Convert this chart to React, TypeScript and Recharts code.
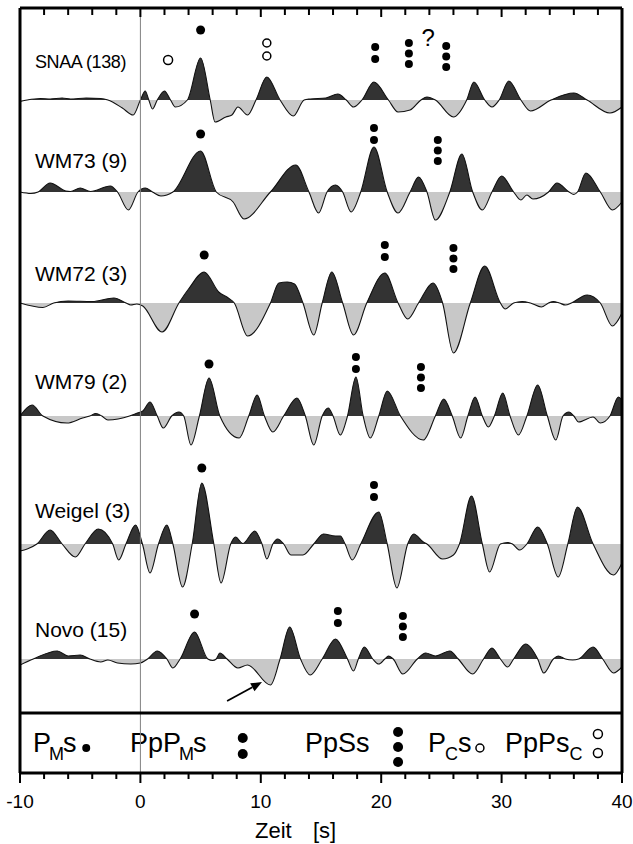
import React from "react";
import {
  ComposedChart,
  Area,
  Line,
  Scatter,
  XAxis,
  YAxis,
  ReferenceLine,
} from "recharts";

const FONT = '"Liberation Sans", Arial, Helvetica, sans-serif';
const DARK = "#333333";
const LIGHT = "#c8c8c8";

type Knot = [number, number]; // [time s, amplitude]

// Receiver function traces, knots at extrema and zero crossings
const SNAA: Knot[] = [
  [-10, -1.5], [-9.4, 0], [-8.3, 1.5], [-7.5, 1], [-6.5, 2], [-5.8, 1], [-4.5, 2], [-3.3, 1.5],
  [-2.7, 0], [-1.5, -8], [-0.6, -15], [0, 0], [0.4, 9], [0.7, 0], [1.0, -9], [1.4, 0], [2.0, 9],
  [2.5, 0], [2.9, -7], [3.9, 0], [5.0, 42], [5.8, 0], [6.2, -22], [7.1, -17], [7.6, -15], [8.1, -7],
  [8.9, -15], [9.6, 0], [10.5, 23], [11.6, 0], [12.7, -16], [13.6, 0], [14.1, 1], [15.4, 2],
  [16.4, 6], [17.1, 0], [17.7, -7], [18.4, 0], [19.4, 18], [20.6, 0], [21.4, -12], [22.4, -10],
  [23.3, 0], [23.8, 3], [24.5, 0], [26.0, -17], [27.1, 0], [27.7, 18], [28.6, 0], [29.2, -7],
  [29.8, 0], [30.6, 19], [31.6, 0], [32.4, -11], [34.1, 0], [36.0, 7], [37.1, 0], [39.0, -13],
  [40, -7],
];

const WM73: Knot[] = [
  [-10, 0], [-9.1, -1.5], [-8.5, 0], [-7.5, 9], [-6.2, 1], [-5.8, 0.5], [-5.0, 4], [-4.15, 0.5],
  [-2.5, 6], [-1.9, 0], [-1.0, -18], [-0.2, 0], [0.4, 4], [1.0, 0], [1.7, -4], [2.7, 0], [5.0, 41],
  [6.3, 0], [7.7, -10], [8.6, -27], [10.8, 0], [12.9, 27], [14.0, 0], [14.8, -21], [15.5, 0],
  [16.2, 7], [16.8, 0], [17.5, -20], [18.3, 0], [19.4, 45], [20.5, 0], [21.4, -21], [22.4, 0],
  [23.1, 15], [23.8, 0], [24.5, -28], [25.7, 0], [26.7, 38], [27.6, 0], [28.4, -18], [29.2, 0],
  [30.0, 16], [31.0, 0], [31.6, -8], [32.1, -3], [32.6, -7], [33.9, 0], [34.6, 9], [35.6, 0],
  [36.0, -2.5], [36.3, 0], [37.0, 19], [38.2, 0], [39.2, -18], [40, -10],
];

const WM72: Knot[] = [
  [-10, 0], [-8.1, -4.5], [-7.2, 0], [-6.0, 2], [-4.0, 1.5], [-2.2, 5], [-1.2, 0], [-0.8, -2],
  [-0.3, -1], [0.2, -3], [1.8, -29], [3.2, 0], [4.0, 14], [5.3, 31], [6.5, 11], [7.3, 5], [7.8, 0],
  [8.9, -33], [10.8, 0], [11.5, 20], [12.2, 21], [12.8, 19], [13.5, 0], [14.4, -32], [15.1, 0],
  [15.9, 31], [16.8, 0], [17.7, -32], [18.8, 0], [20.3, 30], [21.4, 0], [22.2, -16], [23.1, 0],
  [24.3, 20], [25.1, 0], [26.0, -50], [27.4, 0], [28.6, 37], [29.9, 0], [30.3, -6], [31.0, 0],
  [31.7, 1.5], [32.4, 0], [33.3, -4], [33.9, 0], [34.3, 1.5], [34.8, 0], [35.3, -2], [35.8, 0],
  [37.1, 8], [38.2, 0], [39.2, -23], [40, -10],
];

const WM79: Knot[] = [
  [-10, 0], [-9.0, 11], [-8.1, 0], [-6.1, -7], [-4.8, -2], [-4.2, 0], [-3.7, 2.5], [-3.2, 0],
  [-2.7, -4], [-0.9, 0], [-0.25, 3], [0.2, 5], [0.8, 14], [1.4, 0], [1.9, -12], [2.6, 0], [3.2, 4],
  [3.6, 0], [4.2, -29], [4.9, 0], [5.7, 38], [6.6, 0], [8.2, -22], [9.0, 0], [9.7, 21], [10.3, 0],
  [11.0, -16], [11.9, 0], [13.0, 18], [13.7, 0], [14.4, -29], [15.1, 0], [15.6, 8], [16.0, 0],
  [16.6, -19], [17.2, 0], [17.9, 39], [18.5, 0], [19.1, -22], [19.8, 0], [20.5, 25], [21.6, 0],
  [23.5, -24], [24.5, 0], [25.2, 17], [25.9, 0], [26.6, -22], [27.2, 0], [27.8, 19], [28.4, 0],
  [28.9, -11], [29.4, 0], [30.1, 23], [30.7, 0], [31.4, -19], [32.1, 0], [33.0, 31], [33.8, 0],
  [34.5, -24], [35.1, 0], [35.6, 4], [36.0, 0], [36.4, -6], [37.6, -1], [38.2, -7], [39.0, 0],
  [39.7, 19], [40, 16],
];

const WEIGEL: Knot[] = [
  [-10, -7], [-9.4, -5], [-8.6, 0], [-7.5, 14], [-6.5, 0], [-5.4, -13], [-4.6, 0], [-3.5, 15],
  [-2.3, 0], [-1.8, -16], [-1.2, 0], [-0.4, 19], [0.17, 0], [0.8, -29], [1.5, 0], [2.2, 19],
  [2.7, 0], [3.5, -43], [4.3, 0], [5.1, 61], [6.1, 0], [6.7, -39], [7.5, 0], [7.9, 7], [8.5, 0.5],
  [9.5, 13], [10.1, 0], [10.5, -15], [11.0, 0], [11.4, 5], [11.9, 0], [12.5, -11], [13.5, -11],
  [14.4, 0], [15.2, 10], [16.2, 8], [16.6, 8], [17.0, 0], [17.6, -16], [18.3, 0], [19.8, 32],
  [20.5, 0], [21.3, -44], [22.2, 0], [22.7, 10], [23.5, 2], [23.8, 0], [25.1, -15], [26.0, -11],
  [26.5, 0], [27.5, 48], [28.4, 0], [29.0, -28], [29.9, 0], [30.5, 1.5], [30.9, 0], [31.5, -6],
  [32.1, 0], [33.0, 17], [33.8, 0], [34.7, -33], [35.5, 0], [36.3, 37], [37.6, 0], [39.3, -31],
  [40, -19],
];

const NOVO: Knot[] = [
  [-10, -6], [-8.9, 0], [-6.9, 8], [-6.0, 3], [-5.0, 4], [-4.2, 0], [-3.3, -3], [-2.7, -1],
  [-1.9, -4], [-0.8, -5], [0, -4], [0.6, 0], [1.4, 8], [2.2, 0], [2.7, -9], [3.3, 0], [4.5, 27],
  [5.6, 0], [6.0, -1.5], [6.3, 0], [6.6, 6], [7.2, 0], [8.1, -9], [8.9, -6], [10.8, -26],
  [11.6, 0], [12.4, 32], [13.3, 0], [14.1, -16], [15.1, 0], [16.2, 20], [17.2, 0], [17.7, -12],
  [18.1, 0], [18.6, 12], [19.3, 0], [19.8, -5], [20.3, 0], [20.6, 3], [21.0, 0], [21.8, -15],
  [23.0, 0], [23.7, 6], [24.5, 3], [25.7, 8], [26.4, 0], [27.6, -15], [28.5, 0], [29.2, 11],
  [29.9, 0], [30.5, -8], [31.0, 0], [32.0, 15], [33.0, 0], [33.5, -14], [34.3, 0], [34.7, 3],
  [35.3, 0], [35.9, -1], [36.4, 0], [37.6, 12], [38.4, 0], [39.3, -14], [40, -8],
];

const STATIONS = ["SNAA (138)", "WM73 (9)", "WM72 (3)", "WM79 (2)", "Weigel (3)", "Novo (15)"];
const TRACES = [SNAA, WM73, WM72, WM79, WEIGEL, NOVO];

// trace placement, y units are pixels above the time axis
const BASELINES = [673, 581, 470, 357, 229, 114];
const LABEL_Y = [68, 168, 281, 389, 518, 637];
const LABEL_SIZE = [18, 21, 21, 21, 21, 21];

const TICKS = [-10, -8, -6, -4, -2, 0, 2, 4, 6, 8, 10, 12, 14, 16, 18, 20, 22, 24, 26, 28, 30, 32, 34, 36, 38, 40];
const TOP = 765;

// phase picks: station, time, marker type, number of markers, height above trace
type Pick = { station: number; t: number; kind: "dot" | "ring"; n: number; rise: number };
const PICKS: Pick[] = [
  { station: 0, t: 2.3, kind: "ring", n: 1, rise: 40 },
  { station: 0, t: 5.0, kind: "dot", n: 1, rise: 70 },
  { station: 0, t: 10.5, kind: "ring", n: 2, rise: 44 },
  { station: 0, t: 19.5, kind: "dot", n: 2, rise: 41 },
  { station: 0, t: 22.3, kind: "dot", n: 3, rise: 36 },
  { station: 0, t: 25.4, kind: "dot", n: 3, rise: 33 },
  { station: 1, t: 5.0, kind: "dot", n: 1, rise: 58 },
  { station: 1, t: 19.4, kind: "dot", n: 2, rise: 52 },
  { station: 1, t: 24.7, kind: "dot", n: 3, rise: 31 },
  { station: 2, t: 5.3, kind: "dot", n: 1, rise: 48 },
  { station: 2, t: 20.3, kind: "dot", n: 2, rise: 46 },
  { station: 2, t: 26.0, kind: "dot", n: 3, rise: 34 },
  { station: 3, t: 5.7, kind: "dot", n: 1, rise: 52 },
  { station: 3, t: 17.9, kind: "dot", n: 2, rise: 47 },
  { station: 3, t: 23.3, kind: "dot", n: 3, rise: 28 },
  { station: 4, t: 5.1, kind: "dot", n: 1, rise: 76 },
  { station: 4, t: 19.4, kind: "dot", n: 2, rise: 47 },
  { station: 5, t: 4.5, kind: "dot", n: 1, rise: 45 },
  { station: 5, t: 16.4, kind: "dot", n: 2, rise: 36 },
  { station: 5, t: 21.8, kind: "dot", n: 3, rise: 22 },
];
const QUERY = { station: 0, t: 23.9, rise: 62 };

// key markers in the bottom box
const LEGEND_DOTS = [
  { t: -4.5, y: 25, r: 4 },
  { t: 8.5, y: 35, r: 5 },
  { t: 8.5, y: 19, r: 5 },
  { t: 21.4, y: 41, r: 5 },
  { t: 21.4, y: 26, r: 5 },
  { t: 21.4, y: 11, r: 5 },
];
const LEGEND_RINGS = [
  { t: 28.2, y: 25, r: 4 },
  { t: 38.0, y: 39, r: 4.5 },
  { t: 38.0, y: 20, r: 4.5 },
];

const ARROW = [{ x: 7.2, y: 72 }, { x: 10.1, y: 91 }];

const rowsFor = (knots: Knot[], base: number) =>
  knots.map(([t, a]) => ({ t, y: base + a, band: [base, base + a] }));

const splitAt = (knots: Knot[]) => {
  const hi = Math.max(0, ...knots.map((k) => k[1]));
  const lo = Math.min(0, ...knots.map((k) => k[1]));
  return hi / (hi - lo);
};

const pickPoints = (kind: "dot" | "ring") =>
  PICKS.filter((p) => p.kind === kind).flatMap((p) => {
    const gap = p.n === 3 ? 10.5 : kind === "ring" ? 13 : 12;
    return Array.from({ length: p.n }, (_, k) => ({
      t: p.t,
      y: BASELINES[p.station] + p.rise + k * gap,
      r: p.n === 1 ? 4.5 : 4,
    }));
  });

const topTicks = TICKS.map((t) => ({ t, y: TOP, len: t % 10 === 0 ? 9 : 7 }));

const DotShape = (p: any) => <circle cx={p.cx} cy={p.cy} r={p.payload.r} fill="#000" />;
const RingShape = (p: any) => (
  <circle cx={p.cx} cy={p.cy} r={p.payload.r} fill="#fff" stroke="#000" strokeWidth={1.5} />
);
const QueryShape = (p: any) => (
  <text x={p.cx} y={p.cy + 8} textAnchor="middle" fontSize={24} fontFamily={FONT}>
    ?
  </text>
);
// short tick hanging down from the top frame
const TopTickShape = (p: any) => (
  <line x1={p.cx} x2={p.cx} y1={p.cy} y2={p.cy + p.payload.len} stroke="#000" strokeWidth={2} />
);

const BottomTick = (p: any) => {
  const v = p.payload.value;
  const major = v % 10 === 0;
  return (
    <g>
      <line x1={p.x} x2={p.x} y1={p.y} y2={p.y + (major ? 10 : 6)} stroke="#000" strokeWidth={2} />
      {major && (
        <text x={p.x} y={p.y + 35} textAnchor="middle" fontSize={19} fontFamily={FONT} fill="#000">
          {v}
        </text>
      )}
    </g>
  );
};

const Arrow = (p: any) => {
  const { x1, y1, x2, y2 } = p;
  const ang = Math.atan2(y2 - y1, x2 - x1);
  const len = 11;
  const w = 4.5;
  const bx = x2 - len * Math.cos(ang);
  const by = y2 - len * Math.sin(ang);
  const px = -Math.sin(ang) * w;
  const py = Math.cos(ang) * w;
  return (
    <g>
      <line x1={x1} y1={y1} x2={bx} y2={by} stroke="#000" strokeWidth={1.8} />
      <polygon points={`${x2},${y2} ${bx + px},${by + py} ${bx - px},${by - py}`} fill="#000" />
    </g>
  );
};

export default function App() {
  const dots = pickPoints("dot");
  const rings = pickPoints("ring");
  const query = [{ t: QUERY.t, y: BASELINES[QUERY.station] + QUERY.rise }];

  return (
    <div style={{ position: "absolute", left: 0, top: 0, background: "#fff" }}>
      <ComposedChart width={633} height={844} margin={{ top: 8, right: 11, bottom: 11, left: 20 }}>
        <defs>
          {TRACES.map((knots, i) => {
            const f = splitAt(knots);
            return (
              <linearGradient key={i} id={`rf${i}`} x1="0" y1="0" x2="0" y2="1">
                <stop offset={0} stopColor={DARK} />
                <stop offset={f} stopColor={DARK} />
                <stop offset={f} stopColor={LIGHT} />
                <stop offset={1} stopColor={LIGHT} />
              </linearGradient>
            );
          })}
        </defs>
        <XAxis
          xAxisId="b"
          type="number"
          dataKey="t"
          domain={[-10, 40]}
          allowDataOverflow
          ticks={TICKS}
          interval={0}
          height={60}
          axisLine={{ stroke: "#000", strokeWidth: 3 }}
          tickLine={false}
          tickSize={0}
          tickMargin={0}
          tick={<BottomTick />}
        />
        <YAxis type="number" dataKey="y" domain={[0, TOP]} allowDataOverflow hide />

        {TRACES.map((knots, i) => (
          <Area
            key={`a${i}`}
            xAxisId="b"
            data={rowsFor(knots, BASELINES[i])}
            dataKey="band"
            type="monotone"
            stroke="none"
            fill={`url(#rf${i})`}
            fillOpacity={1}
            isAnimationActive={false}
          />
        ))}
        {TRACES.map((knots, i) => (
          <Line
            key={`l${i}`}
            xAxisId="b"
            data={rowsFor(knots, BASELINES[i])}
            dataKey="y"
            type="monotone"
            stroke="#111"
            strokeWidth={1.1}
            dot={false}
            activeDot={false}
            isAnimationActive={false}
          />
        ))}

        <ReferenceLine xAxisId="b" x={0} stroke="#808080" strokeWidth={1} />
        <ReferenceLine xAxisId="b" x={-10} stroke="#000" strokeWidth={3} />
        <ReferenceLine xAxisId="b" x={40} stroke="#000" strokeWidth={3} />
        <ReferenceLine xAxisId="b" y={TOP} stroke="#000" strokeWidth={3} />
        <ReferenceLine xAxisId="b" y={60} stroke="#000" strokeWidth={3} />
        <ReferenceLine xAxisId="b" segment={ARROW} shape={<Arrow />} />

        <Scatter xAxisId="b" data={topTicks} dataKey="y" shape={TopTickShape} isAnimationActive={false} />
        <Scatter xAxisId="b" data={dots} dataKey="y" shape={DotShape} isAnimationActive={false} />
        <Scatter xAxisId="b" data={rings} dataKey="y" shape={RingShape} isAnimationActive={false} />
        <Scatter xAxisId="b" data={query} dataKey="y" shape={QueryShape} isAnimationActive={false} />
        <Scatter xAxisId="b" data={LEGEND_DOTS} dataKey="y" shape={DotShape} isAnimationActive={false} />
        <Scatter xAxisId="b" data={LEGEND_RINGS} dataKey="y" shape={RingShape} isAnimationActive={false} />

        <g fontFamily={FONT} fill="#000">
          {STATIONS.map((name, i) => (
            <text
              key={name}
              x={35}
              y={LABEL_Y[i]}
              fontSize={LABEL_SIZE[i]}
              letterSpacing={i === 0 ? -0.4 : 0}
            >
              {name}
            </text>
          ))}
          <text x={33} y={752} fontSize={27}>
            P<tspan fontSize={18} dx={-2} dy={8}>M</tspan>
            <tspan dx={-1} dy={-8}>s</tspan>
          </text>
          <text x={130} y={752} fontSize={27}>
            PpP<tspan fontSize={18} dx={-2} dy={8}>M</tspan>
            <tspan dx={-1} dy={-8}>s</tspan>
          </text>
          <text x={305} y={752} fontSize={27}>
            PpSs
          </text>
          <text x={428} y={752} fontSize={27}>
            P<tspan fontSize={18} dx={-1} dy={8}>C</tspan>
            <tspan dx={0} dy={-8}>s</tspan>
          </text>
          <text x={505} y={752} fontSize={27}>
            PpPs<tspan fontSize={18} dx={0} dy={8}>C</tspan>
          </text>
          <text x={255} y={838} fontSize={22}>
            Zeit
          </text>
          <text x={313} y={838} fontSize={22}>
            [s]
          </text>
        </g>
      </ComposedChart>
    </div>
  );
}
